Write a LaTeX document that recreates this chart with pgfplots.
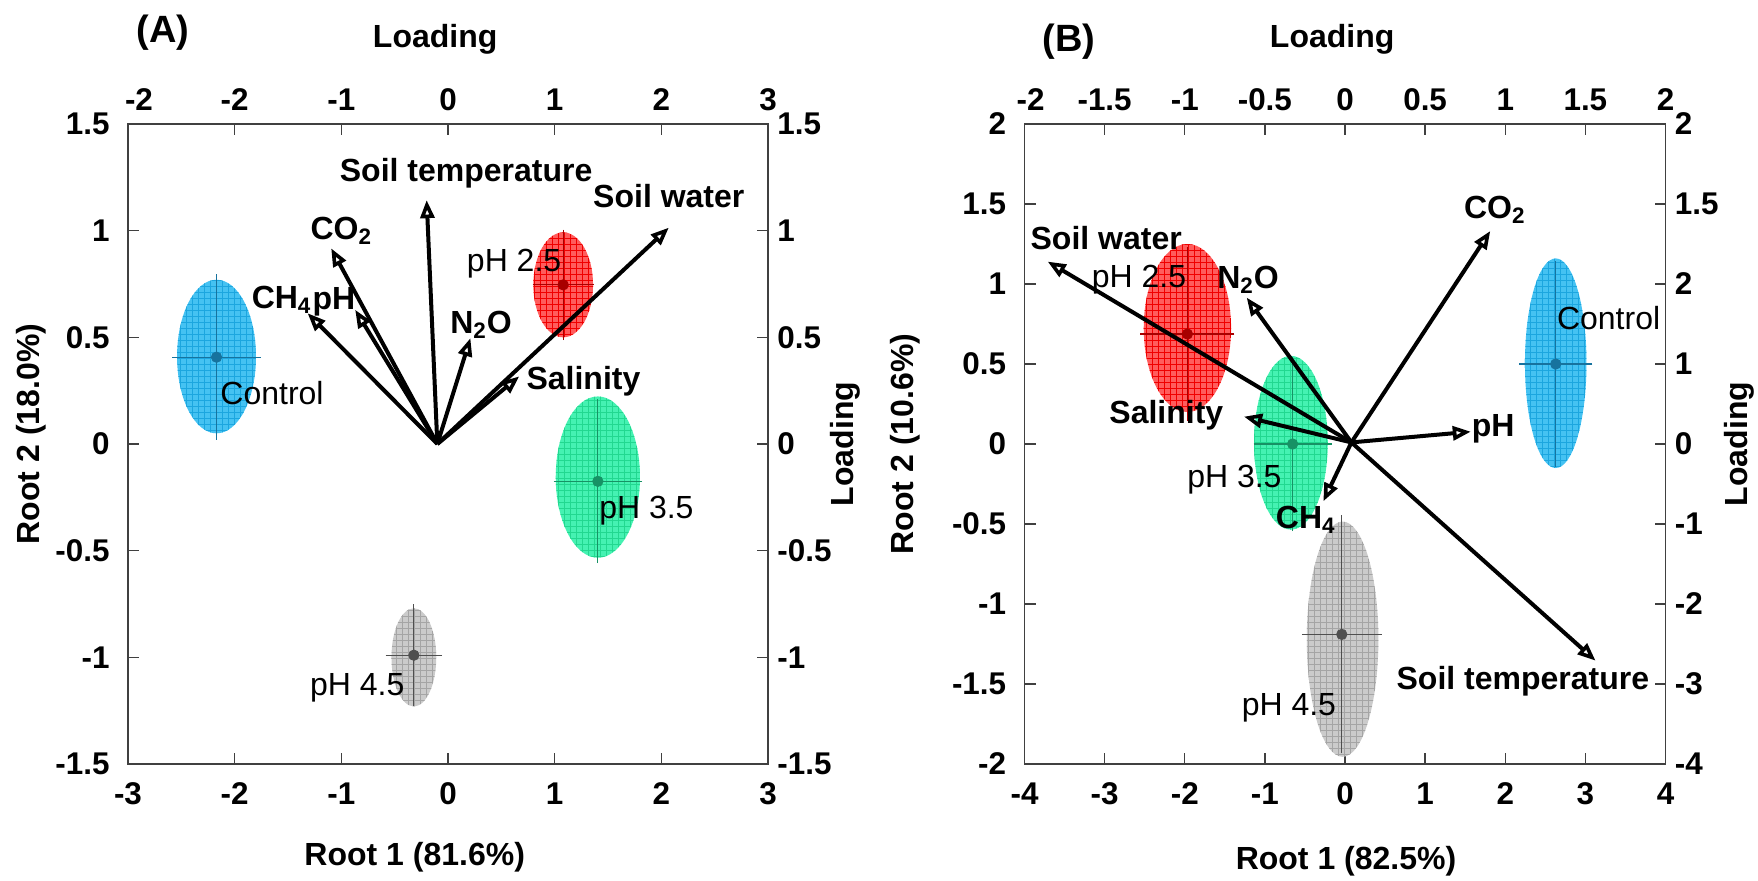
\documentclass[border=0pt]{standalone}
\usepackage{fontspec}
\setmainfont{Liberation Sans}
\usepackage{pgfplots}
\pgfplotsset{compat=1.18}
\usetikzlibrary{arrows.meta,patterns}

\definecolor{blueF}{HTML}{45C2F2}
\definecolor{blueG}{HTML}{1CA6DF}
\definecolor{blueE}{HTML}{17739E}
\definecolor{redF}{HTML}{FF5C5C}
\definecolor{redG}{HTML}{F00000}
\definecolor{redE}{HTML}{A80000}
\definecolor{greenF}{HTML}{45F2B2}
\definecolor{greenG}{HTML}{22D890}
\definecolor{greenE}{HTML}{179265}
\definecolor{grayF}{HTML}{CBCBCB}
\definecolor{grayG}{HTML}{A5A5A5}
\definecolor{grayE}{HTML}{4F4F4F}

\tikzset{
  arr/.style={line width=2pt, black, -{Triangle[open, length=9pt, width=7pt, line width=1.8pt]}},
  lab/.style={font=\fontsize{16}{19}\selectfont\bfseries, inner sep=0pt},
  grp/.style={font=\fontsize{16}{19}\selectfont, inner sep=0pt},
}
\pgfplotsset{
  base/.style={
    scale only axis, height=320pt,
    tick align=inside, major tick length=5.5pt,
    axis line style={line width=0.7pt, black!75},
    every tick/.style={line width=0.7pt, black!75},
    ticklabel style={font=\fontsize{15.7}{18}\selectfont\bfseries, inner sep=1pt},
    label style={font=\fontsize{16}{19}\selectfont\bfseries},
  },
  lowleft/.style={xticklabel style={yshift=-8pt}, yticklabel style={xshift=-8pt}},
  upright/.style={xticklabel style={yshift=5.5pt}, yticklabel style={xshift=3.5pt}},
  eb/.style={only marks, mark=*, mark size=2.6pt, color=#1,
    error bars/.cd, x dir=both, x explicit, y dir=both, y explicit,
    error bar style={line width=0.6pt, #1},
    error mark options={mark size=3.5pt, line width=0.6pt, #1}},
}

\begin{document}
\begin{tikzpicture}
\path[use as bounding box] (0,0) rectangle (879pt,440pt);

% ================= Panel A =================
\begin{axis}[base, lowleft, width=320pt, at={(64pt,58pt)}, anchor=south west,
  xmin=-3, xmax=3, ymin=-1.5, ymax=1.5,
  xtick={-3,-2,-1,0,1,2,3}, xticklabels={-3,-2,-1,0,1,2,3},
  ytick={-1.5,-1,-0.5,0,0.5,1,1.5}, yticklabels={-1.5,-1,-0.5,0,0.5,1,1.5},
  xtick pos=bottom, ytick pos=left,
  xlabel={Root 1 (81.6\%)}, ylabel={Root 2 (18.0\%)},
  xlabel style={at={(axis description cs:0.448,-0.1453)}, anchor=center},
  ylabel style={at={(axis description cs:-0.1516,0.5156)}, anchor=center},
]
% ellipses
\fill[blueF, postaction={pattern=grid, pattern color=blueG}] (axis cs:-2.17,0.41) ellipse [x radius=0.37, y radius=0.36];
\fill[redF, postaction={pattern=grid, pattern color=redG}] (axis cs:1.08,0.746) ellipse [x radius=0.28, y radius=0.246];
\fill[greenF, postaction={pattern=grid, pattern color=greenG}] (axis cs:1.405,-0.155) ellipse [x radius=0.395, y radius=0.378];
\fill[grayF, postaction={pattern=grid, pattern color=grayG}] (axis cs:-0.32,-1.0) ellipse [x radius=0.21, y radius=0.23];
% centroids
\addplot[eb=blueE] coordinates {(-2.17,0.407) +- (0.35,0.355)};
\addplot[eb=redE] coordinates {(1.08,0.746) +- (0.22,0.226)};
\addplot[eb=greenE] coordinates {(1.405,-0.175) +- (0.35,0.351)};
\addplot[eb=grayE] coordinates {(-0.32,-0.99) +- (0.2,0.205)};
% loadings
\addplot[arr] coordinates {(-0.1,0) (-0.2,1.143)};
\addplot[arr] coordinates {(-0.1,0) (2.07,1.014)};
\addplot[arr] coordinates {(-0.1,0) (-1.095,0.917)};
\addplot[arr] coordinates {(-0.1,0) (-1.316,0.613)};
\addplot[arr] coordinates {(-0.1,0) (-0.87,0.629)};
\addplot[arr] coordinates {(-0.1,0) (0.21,0.496)};
\addplot[arr] coordinates {(-0.1,0) (0.668,0.317)};
% labels
\node[lab] at (axis cs:0.17,1.27) {Soil temperature};
\node[lab] at (axis cs:2.07,1.16) {Soil water};
\node[lab] at (axis cs:-1.0,1.0) {CO\textsubscript{2}};
\node[lab] at (axis cs:-1.56,0.675) {CH\textsubscript{4}};
\node[lab] at (axis cs:-1.07,0.668) {pH};
\node[lab] at (axis cs:0.31,0.56) {N\textsubscript{2}O};
\node[lab] at (axis cs:1.27,0.293) {Salinity};
\node[grp] at (axis cs:0.62,0.847) {pH 2.5};
\node[grp] at (axis cs:-1.65,0.239) {Control};
\node[grp] at (axis cs:1.86,-0.3125) {pH 3.5};
\node[grp] at (axis cs:-0.85,-1.144) {pH 4.5};
\end{axis}
\begin{axis}[base, upright, width=320pt, at={(64pt,58pt)}, anchor=south west,
  xmin=-3, xmax=3, ymin=-1.5, ymax=1.5,
  xtick={-3,-2,-1,0,1,2,3}, xticklabels={\hspace{11pt}-2,-2,-1,0,1,2,3\hspace{6pt}},
  ytick={-1.5,-1,-0.5,0,0.5,1,1.5}, yticklabels={-1.5,-1,-0.5,0,0.5,1,1.5},
  xtick pos=top, xticklabel pos=upper, ytick pos=right, yticklabel pos=right,
  xlabel={Loading}, ylabel={Loading},
  xlabel style={at={(axis description cs:0.48,1.1328)}, anchor=center},
  ylabel style={at={(axis description cs:1.1203,0.5)}, anchor=center},
]
\end{axis}
\node[font=\fontsize{19}{22}\selectfont\bfseries] at (81.5pt,423.5pt) {(A)};

% ================= Panel B =================
\begin{axis}[base, lowleft, width=320.5pt, at={(512.25pt,58pt)}, anchor=south west,
  xmin=-4, xmax=4, ymin=-2, ymax=2,
  xtick={-4,-3,-2,-1,0,1,2,3,4}, xticklabels={-4,-3,-2,-1,0,1,2,3,4},
  ytick={-2,-1.5,-1,-0.5,0,0.5,1,1.5,2}, yticklabels={-2,-1.5,-1,-0.5,0,0.5,1,1.5,2},
  xtick pos=bottom, ytick pos=left,
  xlabel={Root 1 (82.5\%)}, ylabel={Root 2 (10.6\%)},
  xlabel style={at={(axis description cs:0.5016,-0.1516)}, anchor=center},
  ylabel style={at={(axis description cs:-0.1864,0.5)}, anchor=center},
]
\fill[redF, postaction={pattern=grid, pattern color=redG}] (axis cs:-1.967,0.725) ellipse [x radius=0.545, y radius=0.525];
\fill[greenF, postaction={pattern=grid, pattern color=greenG}] (axis cs:-0.675,0.008) ellipse [x radius=0.46, y radius=0.543];
\fill[blueF, postaction={pattern=grid, pattern color=blueG}] (axis cs:2.63,0.505) ellipse [x radius=0.384, y radius=0.655];
\fill[grayF, postaction={pattern=grid, pattern color=grayG}] (axis cs:-0.03,-1.22) ellipse [x radius=0.447, y radius=0.735];
\addplot[eb=redE] coordinates {(-1.967,0.6875) +- (0.5,0.5)};
\addplot[eb=greenE] coordinates {(-0.654,0) +- (0.4,0.5)};
\addplot[eb=blueE] coordinates {(2.63,0.5) +- (0.37,0.6)};
\addplot[eb=grayE] coordinates {(-0.04,-1.19) +- (0.41,0.7)};
\addplot[arr] coordinates {(0.08,0.01) (-3.71,1.14)};
\addplot[arr] coordinates {(0.08,0.01) (-1.227,0.915)};
\addplot[arr] coordinates {(0.08,0.01) (1.813,1.331)};
\addplot[arr] coordinates {(0.08,0.01) (-1.26,0.171)};
\addplot[arr] coordinates {(0.08,0.01) (1.57,0.077)};
\addplot[arr] coordinates {(0.08,0.01) (-0.27,-0.358)};
\addplot[arr] coordinates {(0.08,0.01) (3.127,-1.354)};
\node[lab] at (axis cs:-2.98,1.29) {Soil water};
\node[lab] at (axis cs:-1.21,1.025) {N\textsubscript{2}O};
\node[lab] at (axis cs:1.87,1.4625) {CO\textsubscript{2}};
\node[lab] at (axis cs:-2.23,0.18) {Salinity};
\node[lab] at (axis cs:1.85,0.098) {pH};
\node[lab] at (axis cs:-0.49,-0.473) {CH\textsubscript{4}};
\node[lab] at (axis cs:2.22,-1.483) {Soil temperature};
\node[grp] at (axis cs:-2.57,1.025) {pH 2.5};
\node[grp] at (axis cs:3.29,0.785) {Control};
\node[grp] at (axis cs:-1.38,-0.223) {pH 3.5};
\node[grp] at (axis cs:-0.7,-1.65) {pH 4.5};
\end{axis}
\begin{axis}[base, upright, width=320.5pt, at={(512.25pt,58pt)}, anchor=south west,
  xmin=-4, xmax=4, ymin=-2, ymax=2,
  xtick={-4,-3,-2,-1,0,1,2,3,4}, xticklabels={\hspace{6pt}-2,-1.5,-1,-0.5,0,0.5,1,1.5,2\hspace{9pt}},
  ytick={-2,-1.5,-1,-0.5,0,0.5,1,1.5,2}, yticklabels={-4,-3,-2,-1,0,1,2,1.5,2},
  xtick pos=top, xticklabel pos=upper, ytick pos=right, yticklabel pos=right,
  xlabel={Loading}, ylabel={Loading},
  xlabel style={at={(axis description cs:0.48,1.1328)}, anchor=center},
  ylabel style={at={(axis description cs:1.1147,0.5)}, anchor=center},
]
\end{axis}
\node[font=\fontsize{19}{22}\selectfont\bfseries] at (534.5pt,419pt) {(B)};
\end{tikzpicture}
\end{document}
